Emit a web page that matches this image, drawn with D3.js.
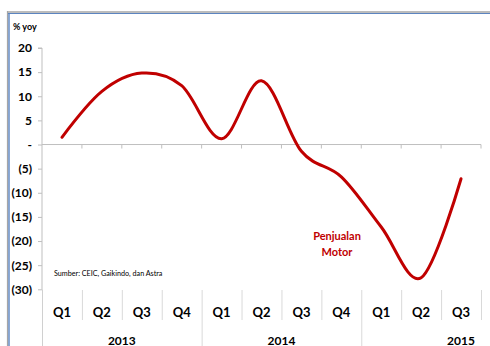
<!DOCTYPE html>
<html><head><meta charset="utf-8">
<script src="https://cdn.jsdelivr.net/npm/d3@7"></script>
<style>
html,body{margin:0;padding:0;background:#fff;}
svg{display:block;font-family:Lato,"Open Sans",sans-serif;}
</style></head>
<body><svg id="c" width="490" height="346"></svg>
<script>
const quarters = ["Q1","Q2","Q3","Q4","Q1","Q2","Q3","Q4","Q1","Q2","Q3"];
const years = ["2013","2014","2015"];
const yearSpans = [4,4,3];
const penjualanMotor = [1.5, 11, 14.8, 12.2, 1.2, 13.2, -1.4, -6.7, -17.1, -27.6, -7.1];
const yTicks = [20,15,10,5,0,-5,-10,-15,-20,-25,-30];
const yTickLabels = ["20","15","10","5","-","(5)","(10)","(15)","(20)","(25)","(30)"];

const svg = d3.select("#c");
const left = 42, right = 481;
const x = d3.scaleBand().domain(d3.range(quarters.length)).range([left, right]).padding(0);
const y = d3.scaleLinear().domain([-30, 20]).range([289.3, 48]);

// frame
svg.append("line").attr("x1",7).attr("x2",490).attr("y1",12).attr("y2",12).attr("stroke","#a6a6a6").attr("stroke-width",1.5);
svg.append("line").attr("x1",8).attr("x2",490).attr("y1",13.5).attr("y2",13.5).attr("stroke","#5b84c0").attr("stroke-width",1.2);
svg.append("line").attr("x1",7.5).attr("x2",7.5).attr("y1",11).attr("y2",346).attr("stroke","#a6a6a6").attr("stroke-width",1.2);
svg.append("line").attr("x1",9).attr("x2",9).attr("y1",13).attr("y2",346).attr("stroke","#5b84c0").attr("stroke-width",1.4);

// y axis
const yAxis = d3.axisLeft(y).tickValues(yTicks).tickSize(4).tickPadding(6)
  .tickFormat((d,i)=>yTickLabels[i]);
const gy = svg.append("g").attr("transform",`translate(${left},0)`).call(yAxis);
gy.select(".domain").attr("stroke","#bfbfbf").attr("d",`M-4,${y(20)}H0V${y(-30)}`);
gy.selectAll(".tick line").attr("stroke","#bfbfbf");
gy.selectAll(".tick text").attr("font-size",12).attr("font-weight","bold").attr("fill","#000")
  .attr("font-family","Lato,sans-serif");

// extend y axis line down through category area
svg.append("line").attr("x1",left+0.5).attr("x2",left+0.5).attr("y1",y(-30)).attr("y2",346).attr("stroke","#d0d0d0");

// zero line axis with ticks
const xAxis = d3.axisBottom(x).tickSize(0).tickFormat("");
const gx = svg.append("g").attr("transform",`translate(0,${y(0)})`).call(xAxis);
gx.select(".domain").attr("stroke","#bfbfbf").attr("d",`M${left},0H${right}`);
const bounds = d3.range(quarters.length+1).map(i => i < quarters.length ? x(i) : x(i-1)+x.bandwidth());
svg.append("g").selectAll("line").data(bounds.slice(1)).join("line")
  .attr("x1",d=>d).attr("x2",d=>d).attr("y1",y(0)).attr("y2",y(0)+4).attr("stroke","#bfbfbf");

// category area separators
const catTop = 290, catQBottom = 320;
svg.append("g").selectAll("line").data(bounds.slice(1)).join("line")
  .attr("x1",d=>d+0.5).attr("x2",d=>d+0.5).attr("y1",catTop).attr("y2",catQBottom)
  .attr("stroke","#d9d9d9").attr("stroke-width",1);
// year separators (long)
let acc = 0;
const yearBounds = yearSpans.slice(0,-1).map(s => { acc += s; return bounds[acc]; });
svg.append("g").selectAll("line").data(yearBounds).join("line")
  .attr("x1",d=>d+0.5).attr("x2",d=>d+0.5).attr("y1",catQBottom).attr("y2",346)
  .attr("stroke","#d9d9d9");

// quarter labels
svg.append("g").selectAll("text").data(quarters).join("text")
  .attr("x",(d,i)=>x(i)+x.bandwidth()/2).attr("y",317)
  .attr("text-anchor","middle").attr("font-size",13).attr("font-weight","bold").attr("fill","#000")
  .text(d=>d);

// year labels
const yearX = [ (bounds[0]+bounds[4])/2, (bounds[4]+bounds[8])/2, x(10)+x.bandwidth()/2 ];
svg.append("g").selectAll("text").data(years).join("text")
  .attr("x",(d,i)=>yearX[i]).attr("y",344.5)
  .attr("text-anchor","middle").attr("font-size",12).attr("font-weight","bold").attr("fill","#000")
  .text(d=>d);

// line
const line = d3.line().x((d,i)=>x(i)+x.bandwidth()/2).y(d=>y(d)).curve(d3.curveCardinal.tension(0));
svg.append("path").datum(penjualanMotor).attr("d",line).attr("fill","none")
  .attr("stroke","#c00000").attr("stroke-width",3).attr("stroke-linecap","round");

// texts
svg.append("text").attr("x",13).attr("y",30).attr("font-size",9).attr("font-weight","bold").attr("fill","#000").text("% yoy");
svg.append("text").attr("x",54).attr("y",276).attr("font-size",7.2).attr("fill","#000").text("Sumber: CEIC, Gaikindo, dan Astra");
const lbl = svg.append("text").attr("text-anchor","middle").attr("font-size",11).attr("font-weight","bold").attr("fill","#c00000");
lbl.append("tspan").attr("x",337).attr("y",240).text("Penjualan");
lbl.append("tspan").attr("x",337).attr("y",256).text("Motor");
</script></body></html>
